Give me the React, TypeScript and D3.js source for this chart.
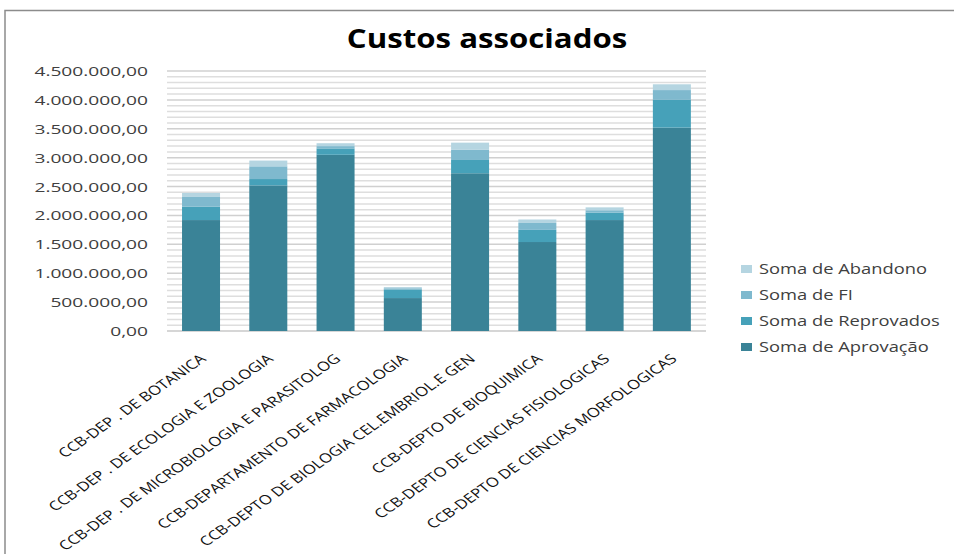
import React, { useEffect, useRef } from "react";
import * as d3 from "d3";

// Chart data
const categories = [
  "CCB-DEP . DE BOTANICA",
  "CCB-DEP . DE ECOLOGIA E ZOOLOGIA",
  "CCB-DEP . DE MICROBIOLOGIA E PARASITOLOG",
  "CCB-DEPARTAMENTO DE FARMACOLOGIA",
  "CCB-DEPTO DE BIOLOGIA CEL.EMBRIOL.E GEN",
  "CCB-DEPTO DE BIOQUIMICA",
  "CCB-DEPTO DE CIENCIAS FISIOLOGICAS",
  "CCB-DEPTO DE CIENCIAS MORFOLOGICAS",
];
const aprovacao = [1920000, 2520000, 3050000, 570000, 2730000, 1540000, 1920000, 3520000];
const reprovados = [230000, 110000, 110000, 150000, 230000, 210000, 130000, 480000];
const fi = [170000, 220000, 40000, 20000, 180000, 120000, 40000, 170000];
const abandono = [70000, 100000, 50000, 20000, 120000, 60000, 50000, 100000];

const seriesNames = ["Soma de Aprovação", "Soma de Reprovados", "Soma de FI", "Soma de Abandono"];
const seriesColors = ["#3a8397", "#46a1b9", "#7fb9ce", "#b5d5e1"];
const yTicks = [0, 500000, 1000000, 1500000, 2000000, 2500000, 3000000, 3500000, 4000000, 4500000];

const ptBR = d3.formatLocale({ decimal: ",", thousands: ".", grouping: [3], currency: ["R$", ""] });
const fmt = ptBR.format(",.2f");

const App: React.FC = () => {
  const svgRef = useRef<SVGSVGElement | null>(null);

  useEffect(() => {
    const width = 954;
    const height = 554;
    const svg = d3.select(svgRef.current);
    svg.selectAll("*").remove();

    svg.append("rect").attr("width", width).attr("height", height).attr("fill", "#fff");

    // outer chart frame (only top and left edges visible)
    svg
      .append("rect")
      .attr("x", 5)
      .attr("y", 10.5)
      .attr("width", 1000)
      .attr("height", 600)
      .attr("fill", "none")
      .attr("stroke", "#8c8c8c")
      .attr("stroke-width", 1.5);

    const stretch = 1.3; // text in the reference is wider than normal

    svg
      .append("text")
      .attr("transform", `translate(487,48) scale(1.2,1)`)
      .attr("text-anchor", "middle")
      .style("font-family", "Open Sans, sans-serif")
      .style("font-weight", "bold")
      .style("font-size", "26px")
      .attr("fill", "#000")
      .text("Custos associados");

    const x = d3
      .scaleBand<string>()
      .domain(categories)
      .range([167.4, 705.5])
      .paddingInner(0.435)
      .paddingOuter(0.2175);

    const y = d3.scaleLinear().domain([0, 4500000]).range([331, 71]);

    // gridlines every 100.000
    const grid = svg.append("g");
    grid
      .selectAll("line")
      .data(d3.range(100000, 4500001, 100000))
      .enter()
      .append("line")
      .attr("x1", 167)
      .attr("x2", 706)
      .attr("y1", (d) => y(d))
      .attr("y2", (d) => y(d))
      .attr("stroke", (d) => (d % 500000 === 0 ? "#d0d0d0" : "#dedede"))
      .attr("stroke-width", 1.5);

    svg
      .append("line")
      .attr("x1", 167)
      .attr("x2", 706)
      .attr("y1", y(0))
      .attr("y2", y(0))
      .attr("stroke", "#c8c8c8")
      .attr("stroke-width", 1.5);

    // y labels
    svg
      .append("g")
      .selectAll("text")
      .data(yTicks)
      .enter()
      .append("text")
      .attr("transform", (d) => `translate(148,${y(d) + 5}) scale(1.42,1)`)
      .attr("text-anchor", "end")
      .style("font-family", "Open Sans, sans-serif")
      .style("font-size", "13.5px")
      .attr("fill", "#404040")
      .text((d) => fmt(d));

    // stacked bars
    const rows = categories.map((c, i) => ({
      cat: c,
      a: aprovacao[i],
      r: reprovados[i],
      f: fi[i],
      b: abandono[i],
    }));
    const stack = d3.stack<any>().keys(["a", "r", "f", "b"]);
    const layers = stack(rows);

    svg
      .append("g")
      .selectAll("g")
      .data(layers)
      .enter()
      .append("g")
      .attr("fill", (d, i) => seriesColors[i])
      .selectAll("rect")
      .data((d) => d)
      .enter()
      .append("rect")
      .attr("x", (d) => x(d.data.cat)!)
      .attr("width", x.bandwidth())
      .attr("y", (d) => y(d[1]))
      .attr("height", (d) => y(d[0]) - y(d[1]));

    // x labels, stretched horizontally like the rest of the text
    svg
      .append("g")
      .selectAll("text")
      .data(categories)
      .enter()
      .append("text")
      .attr(
        "transform",
        (d) => `translate(${x(d)! + x.bandwidth() / 2 + 6},360) scale(${stretch},1) rotate(-42)`
      )
      .attr("text-anchor", "end")
      .style("font-family", "Open Sans, sans-serif")
      .style("font-size", "13px")
      .attr("fill", "#111")
      .text((d) => d);

    // legend (reverse order)
    const legend = svg.append("g");
    const order = [3, 2, 1, 0];
    order.forEach((si, k) => {
      const cy = 269 + k * 26;
      legend
        .append("rect")
        .attr("x", 741)
        .attr("y", cy - 4)
        .attr("width", 11)
        .attr("height", 8)
        .attr("fill", seriesColors[si]);
      legend
        .append("text")
        .attr("transform", `translate(759,${cy + 5}) scale(1.31,1)`)
        .style("font-family", "Open Sans, sans-serif")
        .style("font-size", "14px")
        .attr("fill", "#404040")
        .text(seriesNames[si]);
    });
  }, []);

  return (
    <svg
      ref={svgRef}
      width={954}
      height={554}
      style={{ position: "absolute", left: 0, top: 0, display: "block" }}
    />
  );
};

export default App;
